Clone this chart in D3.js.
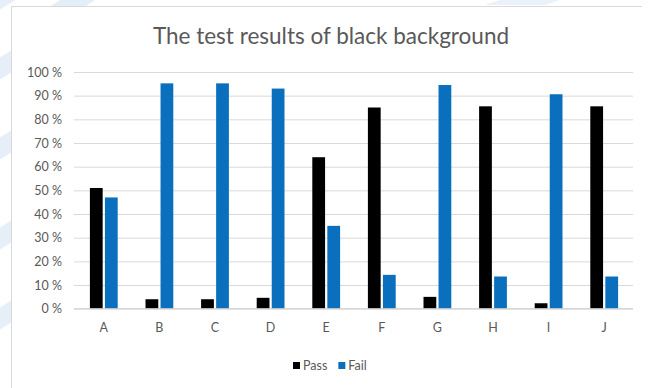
<!DOCTYPE html>
<html>
<head>
<meta charset="utf-8">
<script src="https://cdn.jsdelivr.net/npm/d3@7"></script>
<style>
  html, body { margin: 0; padding: 0; background: #ffffff; }
  svg { display: block; }
  text { font-family: Lato, "Open Sans", "DejaVu Sans", sans-serif; }
</style>
</head>
<body>
<svg id="chart" width="649" height="388"></svg>
<script>
// Test results per sample
const categories = ["A", "B", "C", "D", "E", "F", "G", "H", "I", "J"];
const seriesNames = ["Pass", "Fail"];
const passValues = [51, 4, 4, 4.6, 64, 85, 5, 85.5, 2.3, 85.5];
const failValues = [47, 95.2, 95.2, 93, 35, 14.3, 94.5, 13.6, 90.6, 13.6];
const yTicks = [0, 10, 20, 30, 40, 50, 60, 70, 80, 90, 100];
const seriesColors = ["#000000", "#0a70be"];

const svg = d3.select("#chart");

// faint watermark stripes along the left edge
const wm = svg.append("g").attr("fill", "#e4eef7").attr("opacity", 0.9);
[[-20, 0], [-20, 70], [-20, 150], [-20, 240], [-20, 320]].forEach(([x, yy]) => {
  wm.append("path").attr("d", `M${x},${yy} l40,-25 l0,22 l-40,25 Z`);
});
svg.append("path").attr("d", "M60,0 L95,0 L80,10 L45,10 Z").attr("fill", "#e4eef7");
svg.append("path").attr("d", "M500,0 L560,0 L545,5 L485,5 Z").attr("fill", "#eaf1f8");

// chart frame: white panel with top and left edges showing
svg.append("rect").attr("x", 12).attr("y", 7).attr("width", 631).attr("height", 390)
  .attr("fill", "#ffffff");
svg.append("path").attr("d", "M11.5,388 L11.5,6.5 L642,6.5")
  .attr("fill", "none").attr("stroke", "#d9d9d9").attr("stroke-width", 1);

const plot = { left: 74, right: 633, top: 72, bottom: 308.7 };

const y = d3.scaleLinear().domain([0, 100]).range([plot.bottom, plot.top]);
const x0 = d3.scaleBand().domain(categories).range([76, 632])
  .paddingInner(0.5).paddingOuter(0.25);
const x1 = d3.scaleBand().domain(seriesNames).range([0, x0.bandwidth()]).paddingInner(0.15);

// gridlines
const yAxis = d3.axisLeft(y).tickValues(yTicks)
  .tickSize(-(plot.right - plot.left)).tickFormat(d => d + " %");
const gy = svg.append("g").attr("transform", `translate(${plot.left},0)`).call(yAxis);
gy.select(".domain").remove();
gy.selectAll(".tick line").attr("stroke", "#d9d9d9").attr("stroke-width", 1);
gy.selectAll(".tick text").attr("x", -12).attr("fill", "#595959")
  .attr("font-size", 12.5).attr("text-anchor", "end");

// bars
const data = categories.map((c, i) => ({ cat: c, vals: [passValues[i], failValues[i]] }));
const groups = svg.append("g").selectAll("g").data(data).join("g")
  .attr("transform", d => `translate(${x0(d.cat)},0)`);
groups.selectAll("rect").data(d => d.vals.map((v, k) => ({ name: seriesNames[k], v, k })))
  .join("rect")
  .attr("x", d => x1(d.name))
  .attr("width", x1.bandwidth())
  .attr("y", d => y(d.v))
  .attr("height", d => y(0) - y(d.v))
  .attr("fill", d => seriesColors[d.k]);

// category axis
const xAxis = d3.axisBottom(x0).tickSize(0).tickPadding(14);
const gx = svg.append("g").attr("transform", `translate(0,${plot.bottom})`).call(xAxis);
gx.select(".domain").remove();
gx.append("line").attr("x1", plot.left).attr("x2", plot.right)
  .attr("stroke", "#d0d0d0");
gx.selectAll(".tick text").attr("fill", "#595959").attr("font-size", 12.5);

// title
svg.append("text").attr("x", 331).attr("y", 44).attr("text-anchor", "middle")
  .attr("font-size", 22.5).attr("fill", "#595959")
  .text("The test results of black background");

// legend
const legend = svg.append("g").attr("transform", "translate(293,366)");
let lx = 0;
seriesNames.forEach((name, k) => {
  legend.append("rect").attr("x", lx).attr("y", -4).attr("width", 7).attr("height", 7)
    .attr("fill", seriesColors[k]);
  const t = legend.append("text").attr("x", lx + 10).attr("y", 0).attr("dy", "0.35em")
    .attr("font-size", 12.5).attr("fill", "#595959").text(name);
  lx += 10 + t.node().getComputedTextLength() + 11;
});
</script>
</body>
</html>
